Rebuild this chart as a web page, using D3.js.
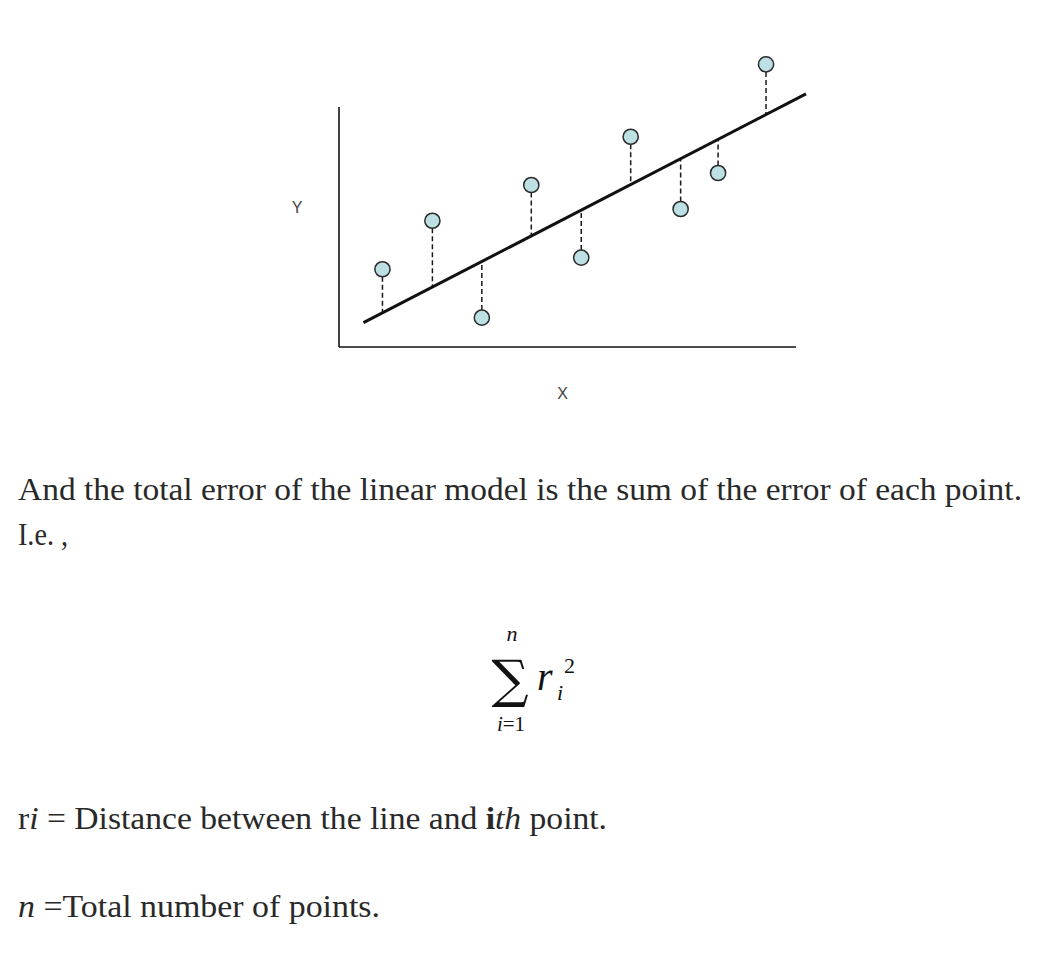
<!DOCTYPE html>
<html>
<head>
<meta charset="utf-8">
<script src="https://cdn.jsdelivr.net/npm/d3@7"></script>
<style>
  html, body { margin: 0; padding: 0; background: #fff; }
  svg { display: block; }
</style>
</head>
<body>
<svg id="chart" width="1060" height="954"></svg>
<script>
// ---- data ----
const pointX = [0.87, 1.87, 2.86, 3.85, 4.85, 5.84, 6.84, 7.59, 8.55];
const pointY = [1.62, 2.63, 0.61, 3.375, 1.86, 4.38, 2.875, 3.625, 5.89];
const lineIntercept = 0.243;
const lineSlope = 0.538;
const lineXRange = [0.49, 9.35];
const xDomain = [0, 9.15];
const yDomain = [0, 5];
const axisLabels = ["X", "Y"];
const paragraph1 = "And the total error of the linear model is the sum of the error of each point.";
const paragraph2 = "I.e. ,";

const svg = d3.select("#chart");
const x = d3.scaleLinear().domain(xDomain).range([339, 796]);
const y = d3.scaleLinear().domain(yDomain).range([347, 107]);
const R = 7.6;

const g = svg.append("g");

// axes (plain lines, no ticks)
g.append("line").attr("x1", x(xDomain[0])).attr("x2", x(xDomain[0]))
  .attr("y1", y(yDomain[0])).attr("y2", y(yDomain[1]))
  .attr("stroke", "#111").attr("stroke-width", 1.6);
g.append("line").attr("x1", x(xDomain[0])).attr("x2", x(xDomain[1]))
  .attr("y1", y(yDomain[0])).attr("y2", y(yDomain[0]))
  .attr("stroke", "#111").attr("stroke-width", 1.6);

g.append("text").attr("x", (x(xDomain[0]) + x(xDomain[1])) / 2 - 5).attr("y", 399)
  .attr("text-anchor", "middle").attr("font-family", "Liberation Sans, Arial, sans-serif")
  .attr("font-size", 16).attr("fill", "#444").text(axisLabels[0]);
g.append("text").attr("x", 297).attr("y", 213)
  .attr("text-anchor", "middle").attr("font-family", "Liberation Sans, Arial, sans-serif")
  .attr("font-size", 16).attr("fill", "#444").text(axisLabels[1]);

const pts = pointX.map((v, i) => ({ x: v, y: pointY[i], fit: lineIntercept + lineSlope * v }));

// residual dashed lines
g.selectAll("line.res").data(pts).join("line").attr("class", "res")
  .attr("x1", d => x(d.x)).attr("x2", d => x(d.x))
  .attr("y1", d => y(d.y) + (d.y > d.fit ? R : -R))
  .attr("y2", d => y(d.fit))
  .attr("stroke", "#1a1a1a").attr("stroke-width", 1.5).attr("stroke-dasharray", "5,3");

// regression line
g.append("line")
  .attr("x1", x(lineXRange[0])).attr("y1", y(lineIntercept + lineSlope * lineXRange[0]))
  .attr("x2", x(lineXRange[1])).attr("y2", y(lineIntercept + lineSlope * lineXRange[1]))
  .attr("stroke", "#111").attr("stroke-width", 3);

// points
g.selectAll("circle").data(pts).join("circle")
  .attr("cx", d => x(d.x)).attr("cy", d => y(d.y)).attr("r", R)
  .attr("fill", "#bde0e4").attr("stroke", "#2a2a2a").attr("stroke-width", 1.5);

// ---- text ----
const serif = "'Liberation Serif', 'Times New Roman', serif";
const tc = "#292929";
const FS = 30.5;
function fit(sel, w) {
  const n = sel.node().getComputedTextLength();
  if (Math.abs(n - w) > 2) sel.attr("textLength", w).attr("lengthAdjust", "spacingAndGlyphs");
}
const t1 = svg.append("text").attr("x", 18).attr("y", 500).attr("font-family", serif)
  .attr("font-size", FS).attr("fill", tc).text(paragraph1);
fit(t1, 1004);
const t2 = svg.append("text").attr("x", 18).attr("y", 545).attr("font-family", serif)
  .attr("font-size", FS).attr("fill", tc).text(paragraph2);
fit(t2, 50);

// formula
const f = svg.append("g").attr("font-family", serif).attr("fill", "#111");
f.append("text").attr("x", 512).attr("y", 641).attr("text-anchor", "middle")
  .attr("font-style", "italic").attr("font-size", 22).text("n");
f.append("text").attr("x", 510).attr("y", 697).attr("text-anchor", "middle")
  .attr("font-family", "'DejaVu Serif', serif")
  .attr("font-size", 52).text("∑");
f.append("text").attr("x", 511).attr("y", 731).attr("text-anchor", "middle")
  .attr("font-size", 21).html('<tspan font-style="italic">i</tspan>=1');
f.append("text").attr("x", 537).attr("y", 690).attr("font-style", "italic")
  .attr("font-size", 40).text("r");
f.append("text").attr("x", 557).attr("y", 700).attr("font-style", "italic")
  .attr("font-size", 22).text("i");
f.append("text").attr("x", 564).attr("y", 673)
  .attr("font-size", 22).text("2");

// definitions
const t3 = svg.append("text").attr("x", 18).attr("y", 829).attr("font-family", serif)
  .attr("font-size", FS).attr("fill", tc);
t3.append("tspan").text("r");
t3.append("tspan").attr("font-style", "italic").text("i");
t3.append("tspan").text(" = Distance between the line and ");
t3.append("tspan").attr("font-weight", "bold").text("i");
t3.append("tspan").attr("font-style", "italic").text("th");
t3.append("tspan").text(" point.");
fit(t3, 589);

const t4 = svg.append("text").attr("x", 18).attr("y", 917).attr("font-family", serif)
  .attr("font-size", FS).attr("fill", tc);
t4.append("tspan").attr("font-style", "italic").text("n");
t4.append("tspan").text(" =Total number of points.");
fit(t4, 362);
</script>
</body>
</html>
